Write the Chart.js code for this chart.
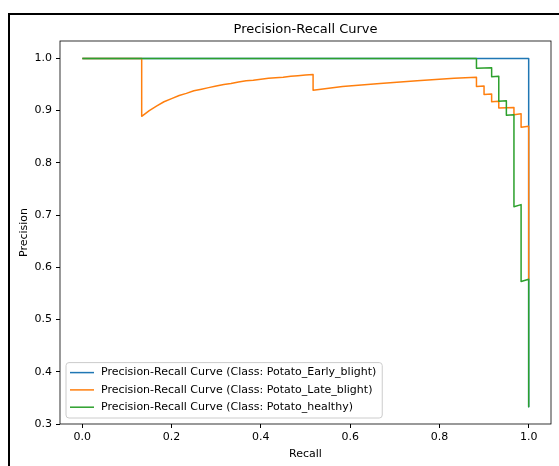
<!DOCTYPE html>
<html>
<head>
<meta charset="utf-8">
<script src="https://cdn.jsdelivr.net/npm/chart.js@4/dist/chart.umd.min.js"></script>
<style>
  html, body { margin: 0; padding: 0; background: #fff; }
  #wrap { position: relative; width: 559px; height: 466px; overflow: hidden; }
  #frame { position: absolute; left: 8px; top: 13px; width: 600px; height: 500px;
           border-left: 2px solid #000; border-top: 2px solid #000; }
  #prChart { position: absolute; left: 0; top: 0; }
</style>
</head>
<body>
<div id="wrap">
  <div id="frame"></div>
  <canvas id="prChart" width="559" height="466"></canvas>
</div>
<script>
// data (recall, precision)
const earlyRecall = [0, 1, 1];
const earlyPrecision = [1, 1, 0.333];

const lateRecall = [0, 0.133, 0.133, 0.15, 0.167, 0.183, 0.2, 0.217, 0.233, 0.25, 0.267, 0.283, 0.3,
  0.317, 0.333, 0.35, 0.367, 0.383, 0.4, 0.417, 0.433, 0.45, 0.467, 0.483, 0.5, 0.517, 0.517,
  0.583, 0.667, 0.75, 0.833, 0.883, 0.883, 0.9, 0.9, 0.917, 0.917, 0.933, 0.933, 0.967, 0.967,
  0.983, 0.983, 1, 1];
const latePrecision = [1, 1, 0.889, 0.9, 0.909, 0.917, 0.923, 0.929, 0.933, 0.938, 0.941, 0.944, 0.947,
  0.95, 0.952, 0.955, 0.957, 0.958, 0.96, 0.962, 0.963, 0.964, 0.966, 0.967, 0.968, 0.969, 0.939,
  0.946, 0.952, 0.957, 0.962, 0.964, 0.946, 0.947, 0.931, 0.932, 0.917, 0.918, 0.905, 0.906, 0.892,
  0.894, 0.868, 0.87, 0.577];

const healthyRecall = [0, 0.883, 0.883, 0.917, 0.917, 0.933, 0.933, 0.95, 0.95, 0.967, 0.967,
  0.983, 0.983, 1, 1];
const healthyPrecision = [1, 1, 0.981, 0.982, 0.965, 0.966, 0.918, 0.919, 0.891, 0.892, 0.716,
  0.72, 0.573, 0.577, 0.333];

const classNames = ["Potato_Early_blight", "Potato_Late_blight", "Potato_healthy"];
const colors = ["#1f77b4", "#ff7f0e", "#2ca02c"];

const toPoints = (xs, ys) => xs.map((x, i) => ({ x: x, y: ys[i] }));

Chart.defaults.font.family = "DejaVu Sans";
Chart.defaults.color = "#000";

const series = [
  toPoints(earlyRecall, earlyPrecision),
  toPoints(lateRecall, latePrecision),
  toPoints(healthyRecall, healthyPrecision),
];

const datasets = series.map((pts, i) => ({
  label: "Precision-Recall Curve (Class: " + classNames[i] + ")",
  data: pts,
  borderColor: colors[i],
  backgroundColor: colors[i],
  borderWidth: 1.5,
  pointRadius: 0,
  showLine: true,
  tension: 0,
  fill: false,
  borderJoinStyle: "round",
  order: 3 - i,
}));

// spines + legend inside the axes, like matplotlib
const frameAndLegend = {
  id: "frameAndLegend",
  afterDraw(chart) {
    const { ctx, chartArea } = chart;
    ctx.save();
    ctx.strokeStyle = "#000";
    ctx.lineWidth = 0.8;
    ctx.strokeRect(chartArea.left, chartArea.top,
      chartArea.right - chartArea.left, chartArea.bottom - chartArea.top);

    ctx.font = '11px "DejaVu Sans"';
    const rows = chart.data.datasets;
    const rowH = 17.3;
    const textW = Math.max(...rows.map(d => ctx.measureText(d.label).width));
    const x0 = chartArea.left + 6;
    const w = 35 + textW + 6;
    const h = rowH * rows.length + 3.5;
    const y0 = chartArea.bottom - 6 - h;

    ctx.beginPath();
    ctx.roundRect(x0, y0, w, h, 3);
    ctx.fillStyle = "rgba(255,255,255,0.8)";
    ctx.fill();
    ctx.strokeStyle = "#cccccc";
    ctx.lineWidth = 1;
    ctx.stroke();

    ctx.textBaseline = "middle";
    rows.forEach((d, i) => {
      const y = y0 + 10 + i * rowH;
      ctx.beginPath();
      ctx.moveTo(x0 + 4, y);
      ctx.lineTo(x0 + 28, y);
      ctx.strokeStyle = d.borderColor;
      ctx.lineWidth = 1.5;
      ctx.stroke();
      ctx.fillStyle = "#000";
      ctx.fillText(d.label, x0 + 35, y);
    });
    ctx.restore();
  },
};

const config = {
  type: "scatter",
  data: { datasets },
  options: {
    responsive: false,
    animation: false,
    devicePixelRatio: 1,
    layout: { padding: { left: 0, right: 8, top: 0, bottom: 0 } },
    plugins: {
      legend: { display: false },
      tooltip: { enabled: false },
      title: {
        display: true,
        text: "Precision-Recall Curve",
        fullSize: false,
        color: "#000",
        font: { size: 13, weight: "normal" },
        padding: { top: 21.5, bottom: 3.9 },
      },
    },
    scales: {
      x: {
        type: "linear",
        min: -0.05,
        max: 1.05,
        afterFit: (scale) => { scale.height = 42; },
        border: { display: false },
        grid: { drawOnChartArea: false, drawTicks: true, tickLength: 4, tickColor: "#000" },
        ticks: {
          stepSize: 0.2,
          includeBounds: false,
          padding: 3,
          font: { size: 11 },
          maxRotation: 0,
          callback: (v) => v.toFixed(1),
        },
        title: { display: true, text: "Recall", font: { size: 11 }, padding: { top: 0, bottom: 5.5 } },
      },
      y: {
        type: "linear",
        min: 0.3,
        max: 1.0333,
        afterFit: (scale) => { scale.width = 60; },
        border: { display: false },
        grid: { drawOnChartArea: false, drawTicks: true, tickLength: 4, tickColor: "#000" },
        ticks: {
          stepSize: 0.1,
          includeBounds: false,
          padding: 4,
          font: { size: 11 },
          callback: (v) => v.toFixed(1),
        },
        title: { display: true, text: "Precision", font: { size: 11 }, padding: { top: 17.5, bottom: 0 } },
      },
    },
  },
  plugins: [frameAndLegend],
};

const prChart = new Chart(document.getElementById("prChart"), config);
</script>
</body>
</html>
